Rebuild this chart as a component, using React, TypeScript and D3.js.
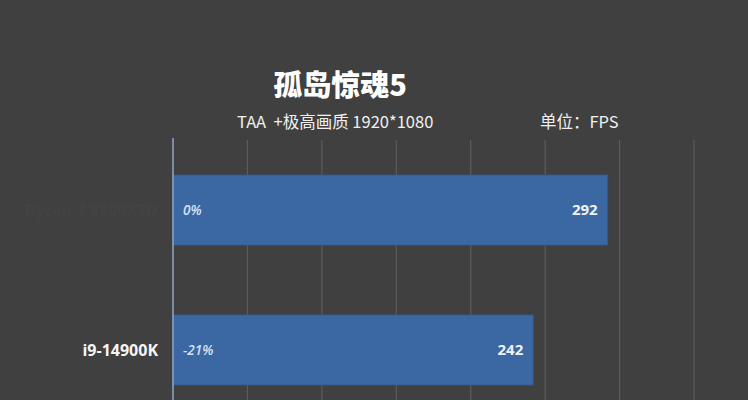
import React, { useEffect, useRef } from 'react';
import * as d3 from 'd3';

// chart data
const categories = ['Ryzen 7 9800X3D', 'i9-14900K'];
const fps = [292, 242];
const diffLabels = ['0%', '-21%'];
const xTicks = [0, 50, 100, 150, 200, 250, 300, 350];

const title = '孤岛惊魂5';
const subtitle = 'TAA  +极高画质 1920*1080';
const unitLabel = '单位：FPS';

const W = 748;
const H = 400;
const CJK = '"Noto Sans CJK SC", "Open Sans", sans-serif';

const App: React.FC = () => {
  const svgRef = useRef<SVGSVGElement>(null);

  useEffect(() => {
    if (!svgRef.current) return;
    const svg = d3.select(svgRef.current);
    svg.selectAll('*').remove();

    // background
    svg.append('rect').attr('width', W).attr('height', H).attr('fill', '#404040');

    const x = d3.scaleLinear().domain([0, 350]).range([173, 694]);
    const y = d3.scaleBand<string>()
      .domain(categories)
      .range([140, 420])
      .paddingInner(0.5)
      .paddingOuter(0.25);

    // gridlines
    svg.append('g')
      .selectAll('line')
      .data(xTicks.slice(1))
      .enter()
      .append('line')
      .attr('x1', d => x(d))
      .attr('x2', d => x(d))
      .attr('y1', 140)
      .attr('y2', H)
      .style('stroke', '#5c5c5c')
      .style('stroke-width', 1.2);

    // bars
    const bars = svg.append('g');
    bars.selectAll('rect')
      .data(fps)
      .enter()
      .append('rect')
      .attr('x', x(0))
      .attr('y', (_, i) => y(categories[i])!)
      .attr('width', d => x(d) - x(0))
      .attr('height', y.bandwidth())
      .style('fill', '#3b68a3')
      .style('stroke', '#35598a')
      .style('stroke-width', 1);

    // value labels
    bars.selectAll('text.val')
      .data(fps)
      .enter()
      .append('text')
      .attr('class', 'val')
      .attr('x', d => x(d) - 10)
      .attr('y', (_, i) => y(categories[i])! + y.bandwidth() / 2)
      .attr('dy', '0.36em')
      .attr('text-anchor', 'end')
      .style('font-family', '"Open Sans", sans-serif')
      .style('font-weight', 700)
      .style('font-size', '15px')
      .style('fill', '#f2f2f2')
      .text(d => d);

    // percentage labels
    bars.selectAll('text.pct')
      .data(diffLabels)
      .enter()
      .append('text')
      .attr('class', 'pct')
      .attr('x', x(0) + 10)
      .attr('y', (_, i) => y(categories[i])! + y.bandwidth() / 2)
      .attr('dy', '0.36em')
      .style('font-family', '"Open Sans", sans-serif')
      .style('font-style', 'italic')
      .style('font-weight', 600)
      .style('font-size', '13.5px')
      .style('fill', '#d6e3f5')
      .text(d => d);

    // category labels (first one is nearly invisible in the original)
    svg.append('g')
      .selectAll('text')
      .data(categories)
      .enter()
      .append('text')
      .attr('x', 158)
      .attr('y', d => y(d)! + y.bandwidth() / 2)
      .attr('dy', '0.36em')
      .attr('text-anchor', 'end')
      .style('font-family', '"Open Sans", sans-serif')
      .style('font-weight', 700)
      .style('font-size', '16px')
      .style('fill', (_, i) => (i === 0 ? '#434343' : '#f5f5f5'))
      .text(d => d);

    // axis line
    svg.append('line')
      .attr('x1', x(0))
      .attr('x2', x(0))
      .attr('y1', 138)
      .attr('y2', H)
      .style('stroke', '#8fa6c6')
      .style('stroke-width', 1.5);

    // titles
    svg.append('text')
      .attr('x', 340)
      .attr('y', 96)
      .attr('text-anchor', 'middle')
      .style('font-family', CJK)
      .style('font-weight', 900)
      .style('font-size', '29px')
      .style('fill', '#ffffff')
      .text(title);

    svg.append('text')
      .attr('x', 237)
      .attr('y', 128)
      .style('font-family', CJK)
      .style('font-size', '16.5px')
      .style('white-space', 'pre')
      .style('fill', '#f0f0f0')
      .text(subtitle);

    svg.append('text')
      .attr('x', 540)
      .attr('y', 128)
      .style('font-family', CJK)
      .style('font-size', '16.5px')
      .style('fill', '#f0f0f0')
      .text(unitLabel);
  }, []);

  return (
    <div style={{ position: 'fixed', left: 0, top: 0, width: W, height: H, background: '#404040' }}>
      <svg ref={svgRef} width={W} height={H} style={{ display: 'block' }} />
    </div>
  );
};

export default App;
